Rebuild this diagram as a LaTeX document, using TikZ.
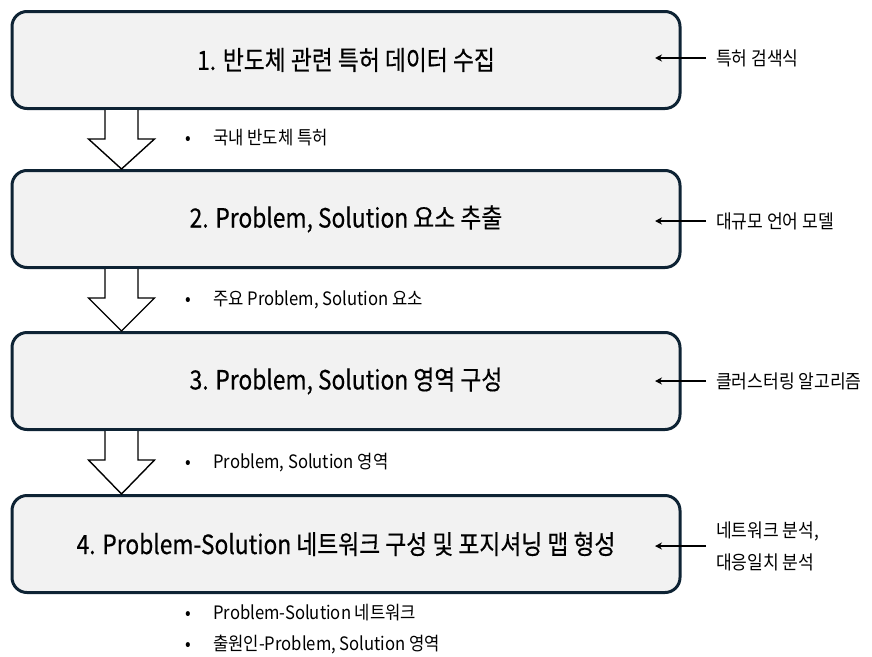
\documentclass[tikz,border=0pt]{standalone}
\usepackage{fontspec}
\setmainfont{Noto Sans CJK KR}
\newfontfamily\titlefont[FakeStretch=0.86,FakeBold=0.4]{Noto Sans CJK KR}
\newfontfamily\smallfont[FakeStretch=0.9]{Noto Sans CJK KR}
\usetikzlibrary{arrows.meta,calc}
\definecolor{boxfill}{HTML}{F2F2F2}
\definecolor{boxline}{HTML}{0E2334}
\tikzset{
  stagebox/.style={draw=boxline, line width=3pt, fill=boxfill, rounded corners=15pt,
    minimum width=668pt, minimum height=97pt, inner sep=0pt,
    font=\titlefont\fontsize{26.5pt}{30pt}\selectfont},
  sidelabel/.style={anchor=west, inner sep=0pt, align=left,
    font=\smallfont\fontsize{19pt}{32pt}\selectfont},
  bulletlabel/.style={anchor=west, inner sep=0pt,
    font=\smallfont\fontsize{18.5pt}{20pt}\selectfont},
  feedarrow/.style={draw=black, line width=1.6pt, -{Stealth[length=7pt,width=7pt]}},
  blockarrow/.style={draw=black, line width=1.4pt, fill=white, line join=miter},
}
\newcommand{\blockarr}[2]{% #1 upper box, #2 lower box
  \path (#1.south west) ++(111pt,0) coordinate (c);
  \path (#2.north west) ++(111pt,0) coordinate (t);
  \draw[blockarrow] ($(c)+(-16.5pt,0)$) -- ($(c)+(-16.5pt,-29pt)$) -- ($(c)+(-33pt,-29pt)$)
    -- (t) -- ($(c)+(33pt,-29pt)$) -- ($(c)+(16.5pt,-29pt)$) -- ($(c)+(16.5pt,0)$);
}
\newcommand{\bul}[1]{\makebox[28pt][l]{•}#1}
\begin{document}
\begin{tikzpicture}[x=1pt,y=-1pt]
\useasboundingbox (0,0) rectangle (872,656);
\node[stagebox] (b1) at (346,60) {1. 반도체 관련 특허 데이터 수집};
\node[stagebox] (b2) at (346,219) {2. Problem, Solution 요소 추출};
\node[stagebox] (b3) at (346,381) {3. Problem, Solution 영역 구성};
\node[stagebox] (b4) at (346,544) {4. Problem-Solution 네트워크 구성 및 포지셔닝 맵 형성};

\blockarr{b1}{b2}
\blockarr{b2}{b3}
\blockarr{b3}{b4}

\node[bulletlabel] (n1) at (185,138) {\bul{국내 반도체 특허}};
\node[bulletlabel] (n2) at (185,300) {\bul{주요 Problem, Solution 요소}};
\node[bulletlabel] (n3) at (185,463) {\bul{Problem, Solution 영역}};
\node[bulletlabel] (n4) at (185,613) {\bul{Problem-Solution 네트워크}};
\node[bulletlabel] (n5) at (185,645) {\bul{출원인-Problem, Solution 영역}};

\node[sidelabel] (s1) at (716,58) {특허 검색식};
\node[sidelabel] (s2) at (716,221) {대규모 언어 모델};
\node[sidelabel] (s3) at (716,381) {클러스터링 알고리즘};
\node[sidelabel] (s4) at (716,546) {네트워크 분석,\\대응일치 분석};

\coordinate (t1) at (655,58);
\coordinate (t2) at (655,221);
\coordinate (t3) at (655,381);
\coordinate (t4) at (655,546);
\draw[feedarrow] ($(s1.west)+(-10pt,0)$) -- (t1);
\draw[feedarrow] ($(s2.west)+(-10pt,0)$) -- (t2);
\draw[feedarrow] ($(s3.west)+(-10pt,0)$) -- (t3);
\draw[feedarrow] ($(s4.west)+(-10pt,0)$) -- (t4);
\end{tikzpicture}
\end{document}
